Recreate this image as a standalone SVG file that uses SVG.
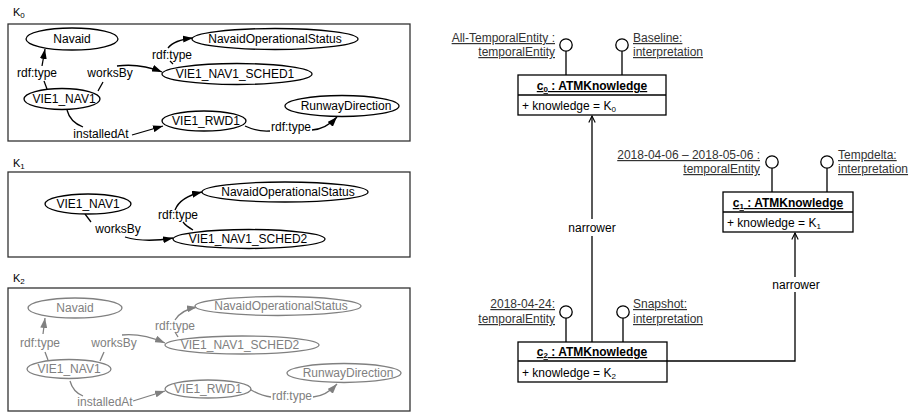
<svg xmlns="http://www.w3.org/2000/svg" width="911" height="413" viewBox="0 0 911 413">
<defs>
<style>
text{font-family:"Liberation Sans",Arial,sans-serif;}
.n{font-size:12px;text-anchor:middle;fill:#000;}
.ng{font-size:12px;text-anchor:middle;fill:#808080;}
.el{fill:#fff;stroke:#000;stroke-width:1.3;}
.elg{fill:#fff;stroke:#808080;stroke-width:1.3;}
.e{fill:none;stroke:#000;stroke-width:1.3;}
.eg{fill:none;stroke:#808080;stroke-width:1.3;}
.box{fill:none;stroke:#333;stroke-width:1.3;}
.kl{font-size:11px;fill:#000;}
.ub{fill:#fff;stroke:#000;stroke-width:1.3;}
.ut{font-size:12px;fill:#000;}
.uh{font-size:12px;font-weight:bold;text-anchor:middle;text-decoration:underline;fill:#000;}
.lab{font-size:12px;fill:#333;text-decoration:underline;}
.lr{text-anchor:end;}
.lol{fill:#fff;stroke:#000;stroke-width:1.3;}
.c{fill:none;stroke:#000;stroke-width:1.3;}
.cl{font-size:12px;text-anchor:middle;fill:#000;}
</style>
<marker id="ah" viewBox="0 0 10 7" refX="10" refY="3.5" markerWidth="10" markerHeight="7" markerUnits="userSpaceOnUse" orient="auto"><path d="M0,0 L10,3.5 L0,7 z" fill="#000"/></marker>
<marker id="ahg" viewBox="0 0 10 7" refX="10" refY="3.5" markerWidth="10" markerHeight="7" markerUnits="userSpaceOnUse" orient="auto"><path d="M0,0 L10,3.5 L0,7 z" fill="#808080"/></marker>
<marker id="open" viewBox="0 0 10 10" refX="9" refY="5" markerWidth="8" markerHeight="8" markerUnits="userSpaceOnUse" orient="auto"><path d="M1,1 L9,5 L1,9" fill="none" stroke="#000" stroke-width="1.4"/></marker>
</defs>

<!-- K0 -->
<g id="K0">
<text class="kl" x="13" y="16">K<tspan font-size="8" dy="2">0</tspan></text>
<rect class="box" x="8" y="24" width="402" height="117"/>
</g>
<g id="k0-connectors">
<path class="e" d="M47,89 L44,81"/>
<path class="e" d="M42,66 L45,49" marker-end="url(#ah)"/>
<text class="n" x="37" y="77">rdf:type</text>
<path class="e" d="M98,91 L103,82"/>
<path class="e" d="M117,66 Q140,63 162,72" marker-end="url(#ah)"/>
<text class="n" x="110" y="77">worksBy</text>
<path class="e" d="M173,64 L170,61"/>
<path class="e" d="M168,48 Q174,40 193,38" marker-end="url(#ah)"/>
<text class="n" x="172" y="59">rdf:type</text>
<path class="e" d="M67,110 Q70,122 83,127"/>
<path class="e" d="M132,135 L163,126" marker-end="url(#ah)"/>
<text class="n" x="101" y="138">installedAt</text>
<path class="e" d="M245,126 Q258,132 270,131"/>
<path class="e" d="M312,130 Q326,129 337,117" marker-end="url(#ah)"/>
<text class="n" x="291" y="131">rdf:type</text>
</g>
<g id="k0-navaid"><ellipse class="el" cx="72" cy="39" rx="46" ry="11"/><text class="n" x="72" y="43">Navaid</text></g>
<g id="k0-status"><ellipse class="el" cx="275" cy="39" rx="83" ry="10.5"/><text class="n" x="275" y="43">NavaidOperationalStatus</text></g>
<g id="k0-sched1"><ellipse class="el" cx="237" cy="74" rx="75" ry="10.5"/><text class="n" x="235" y="78">VIE1_NAV1_SCHED1</text></g>
<g id="k0-nav1"><ellipse class="el" cx="62" cy="99" rx="38" ry="10.5"/><text class="n" x="64" y="103">VIE1_NAV1</text></g>
<g id="k0-rwd1"><ellipse class="el" cx="204" cy="121" rx="42" ry="10"/><text class="n" x="206" y="125">VIE1_RWD1</text></g>
<g id="k0-runway"><ellipse class="el" cx="342" cy="106" rx="57" ry="10.5"/><text class="n" x="346" y="110">RunwayDirection</text></g>

<!-- K1 -->
<g id="K1">
<text class="kl" x="13" y="167">K<tspan font-size="8" dy="2">1</tspan></text>
<rect class="box" x="8" y="172" width="402" height="85"/>
</g>
<g id="k1-connectors">
<path class="e" d="M85,214 L91,222"/>
<path class="e" d="M125,237 Q145,243 173,238" marker-end="url(#ah)"/>
<text class="n" x="118" y="233">worksBy</text>
<path class="e" d="M193,230 Q186,226 183,222"/>
<path class="e" d="M175,210 Q180,197 202,192" marker-end="url(#ah)"/>
<text class="n" x="178" y="219">rdf:type</text>
</g>
<g id="k1-nav1"><ellipse class="el" cx="88" cy="204" rx="43" ry="10"/><text class="n" x="88" y="208">VIE1_NAV1</text></g>
<g id="k1-status"><ellipse class="el" cx="285" cy="192" rx="83" ry="10"/><text class="n" x="288" y="196">NavaidOperationalStatus</text></g>
<g id="k1-sched2"><ellipse class="el" cx="249" cy="239" rx="76" ry="9.5"/><text class="n" x="248" y="243">VIE1_NAV1_SCHED2</text></g>

<!-- K2 -->
<g id="K2">
<text class="kl" x="13" y="282">K<tspan font-size="8" dy="2">2</tspan></text>
<rect class="box" x="8" y="288" width="402" height="123"/>
</g>
<g id="k2-connectors">
<path class="eg" d="M48,360 L45,352"/>
<path class="eg" d="M43,334 L45,318" marker-end="url(#ahg)"/>
<text class="ng" x="40" y="347">rdf:type</text>
<path class="eg" d="M100,361 L104,352"/>
<path class="eg" d="M122,335 Q142,333 165,343" marker-end="url(#ahg)"/>
<text class="ng" x="114" y="347">worksBy</text>
<path class="eg" d="M178,337 L175,332"/>
<path class="eg" d="M175,320 Q181,310 197,307" marker-end="url(#ahg)"/>
<text class="ng" x="175" y="330">rdf:type</text>
<path class="eg" d="M70,381 Q73,392 83,396"/>
<path class="eg" d="M133,401 L165,391" marker-end="url(#ahg)"/>
<text class="ng" x="105" y="406">installedAt</text>
<path class="eg" d="M248,388 Q260,396 271,397"/>
<path class="eg" d="M313,397 Q326,396 337,384" marker-end="url(#ahg)"/>
<text class="ng" x="292" y="400">rdf:type</text>
</g>
<g id="k2-navaid"><ellipse class="elg" cx="75" cy="308" rx="47" ry="10"/><text class="ng" x="75" y="312">Navaid</text></g>
<g id="k2-status"><ellipse class="elg" cx="278" cy="306" rx="83" ry="9.5"/><text class="ng" x="281" y="310">NavaidOperationalStatus</text></g>
<g id="k2-sched2"><ellipse class="elg" cx="242" cy="345" rx="77" ry="9"/><text class="ng" x="240" y="349">VIE1_NAV1_SCHED2</text></g>
<g id="k2-nav1"><ellipse class="elg" cx="69" cy="369" rx="42" ry="9.5"/><text class="ng" x="69" y="373">VIE1_NAV1</text></g>
<g id="k2-rwd1"><ellipse class="elg" cx="208" cy="389" rx="43" ry="9"/><text class="ng" x="208" y="393">VIE1_RWD1</text></g>
<g id="k2-runway"><ellipse class="elg" cx="344" cy="373" rx="57" ry="9.5"/><text class="ng" x="348" y="377">RunwayDirection</text></g>

<!-- UML connectors -->
<g id="uml-connectors">
<path class="c" d="M592,342 L592,236"/>
<path class="c" d="M592,219 L592,116" marker-end="url(#open)"/>
<text class="cl" x="592" y="232">narrower</text>
<path class="c" d="M667,361 L795,361 L795,292"/>
<path class="c" d="M795,277 L795,233" marker-end="url(#open)"/>
<text class="cl" x="796" y="289">narrower</text>
</g>

<!-- c0 -->
<g id="c0">
<path class="c" d="M566,51 L566,75 M622,51 L622,75"/>
<circle class="lol" cx="566" cy="45" r="6.2"/>
<circle class="lol" cx="622" cy="45" r="6.2"/>
<text class="lab lr" x="555" y="42">All-TemporalEntity :</text>
<text class="lab lr" x="555" y="56">temporalEntity</text>
<text class="lab" x="633" y="42">Baseline:</text>
<text class="lab" x="633" y="56">interpretation</text>
<rect class="ub" x="518" y="75" width="148" height="40"/>
<line class="c" x1="518" y1="95" x2="666" y2="95"/>
<text class="uh" x="592" y="90">c<tspan font-size="8" dy="2">0</tspan><tspan dy="-2"> : ATMKnowledge</tspan></text>
<text class="ut" x="522" y="110">+ knowledge = K<tspan font-size="8" dy="2">0</tspan></text>
</g>

<!-- c1 -->
<g id="c1">
<path class="c" d="M772,168 L772,192 M827,168 L827,192"/>
<circle class="lol" cx="772" cy="162" r="6.2"/>
<circle class="lol" cx="827" cy="162" r="6.2"/>
<text class="lab lr" x="760" y="159">2018-04-06 – 2018-05-06 :</text>
<text class="lab lr" x="760" y="173">temporalEntity</text>
<text class="lab" x="838" y="159">Tempdelta:</text>
<text class="lab" x="838" y="173">interpretation</text>
<rect class="ub" x="723" y="192" width="130" height="40"/>
<line class="c" x1="723" y1="212" x2="853" y2="212"/>
<text class="uh" x="788" y="207">c<tspan font-size="8" dy="2">1</tspan><tspan dy="-2"> : ATMKnowledge</tspan></text>
<text class="ut" x="727" y="227">+ knowledge = K<tspan font-size="8" dy="2">1</tspan></text>
</g>

<!-- c2 -->
<g id="c2">
<path class="c" d="M566,318 L566,342 M623,318 L623,342"/>
<circle class="lol" cx="566" cy="312" r="6.2"/>
<circle class="lol" cx="623" cy="312" r="6.2"/>
<text class="lab lr" x="555" y="308">2018-04-24:</text>
<text class="lab lr" x="555" y="323">temporalEntity</text>
<text class="lab" x="633" y="308">Snapshot:</text>
<text class="lab" x="633" y="323">interpretation</text>
<rect class="ub" x="518" y="342" width="149" height="40"/>
<line class="c" x1="518" y1="361" x2="667" y2="361"/>
<text class="uh" x="592" y="356">c<tspan font-size="8" dy="2">2</tspan><tspan dy="-2"> : ATMKnowledge</tspan></text>
<text class="ut" x="522" y="377">+ knowledge = K<tspan font-size="8" dy="2">2</tspan></text>
</g>
</svg>
